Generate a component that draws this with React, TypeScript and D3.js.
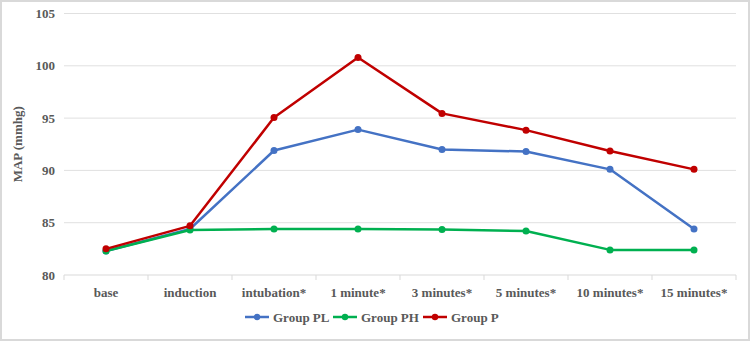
import React from "react";
import * as d3 from "d3";

const categories = ["base", "induction", "intubation*", "1 minute*", "3 minutes*", "5 minutes*", "10 minutes*", "15 minutes*"];
const groupPL = [82.3, 84.4, 91.9, 93.9, 92.0, 91.8, 90.1, 84.4];
const groupPH = [82.3, 84.3, 84.4, 84.4, 84.35, 84.2, 82.4, 82.4];
const groupP = [82.5, 84.7, 95.05, 100.8, 95.45, 93.85, 91.85, 90.1];
const yTicks = [80, 85, 90, 95, 100, 105];

const series = [
  { name: "Group PL", values: groupPL, color: "#4472C4" },
  { name: "Group PH", values: groupPH, color: "#00B050" },
  { name: "Group P", values: groupP, color: "#C00000" },
];

export default function App() {
  const W = 750, H = 341;
  const left = 64, right = 736, top = 13.5, bottom = 275;
  const x = d3.scaleBand().domain(categories).range([left, right]);
  const y = d3.scaleLinear().domain([80, 105]).range([bottom, top]);
  const line = d3.line<number>().x((_, i) => x(categories[i])! + x.bandwidth() / 2).y((d) => y(d));
  const font = "'Liberation Serif', 'Times New Roman', serif";
  const textColor = "#595959";

  const legendStarts = [245, 333, 423];

  return (
    <svg width={W} height={H} style={{ position: "absolute", left: 0, top: 0 }} fontFamily={font}>
      <rect x={1} y={1} width={W - 2} height={H - 2} fill="#fff" stroke="#d9d9d9" strokeWidth={2} />
      {yTicks.map((t) => (
        <g key={t}>
          {t !== 80 && <line x1={left} x2={right} y1={y(t)} y2={y(t)} stroke="#e0e0e0" strokeWidth={1} />}
          <text x={55} y={y(t)} dy="0.35em" textAnchor="end" fontSize={13} fontWeight="bold" fill={textColor}>{t}</text>
        </g>
      ))}
      <line x1={left} x2={right} y1={bottom} y2={bottom} stroke="#d9d9d9" strokeWidth={1} />
      {categories.concat([""]).map((c, i) => {
        const xx = left + i * x.bandwidth();
        return <line key={"t" + i} x1={xx} x2={xx} y1={bottom} y2={bottom + 5} stroke="#d9d9d9" />;
      })}
      {categories.map((c) => (
        <text key={c} x={x(c)! + x.bandwidth() / 2} y={297} textAnchor="middle" fontSize={13} fontWeight="bold" fill={textColor}>{c}</text>
      ))}
      <text transform={`translate(22,${(top + bottom) / 2}) rotate(-90)`} textAnchor="middle" fontSize={13} fontWeight="bold" fill={textColor}>MAP (mmhg)</text>
      {series.map((s) => (
        <g key={s.name}>
          <path d={line(s.values)!} fill="none" stroke={s.color} strokeWidth={2.5} strokeLinejoin="round" />
          {s.values.map((v, i) => (
            <circle key={i} cx={x(categories[i])! + x.bandwidth() / 2} cy={y(v)} r={3.5} fill={s.color} />
          ))}
        </g>
      ))}
      {series.map((s, i) => {
        const lx = legendStarts[i];
        return (
          <g key={"l" + s.name}>
            <line x1={lx} x2={lx + 24} y1={317} y2={317} stroke={s.color} strokeWidth={2.5} />
            <circle cx={lx + 12} cy={317} r={3.2} fill={s.color} />
            <text x={lx + 28} y={317} dy="0.35em" fontSize={13} fontWeight="bold" fill={textColor}>{s.name}</text>
          </g>
        );
      })}
    </svg>
  );
}
